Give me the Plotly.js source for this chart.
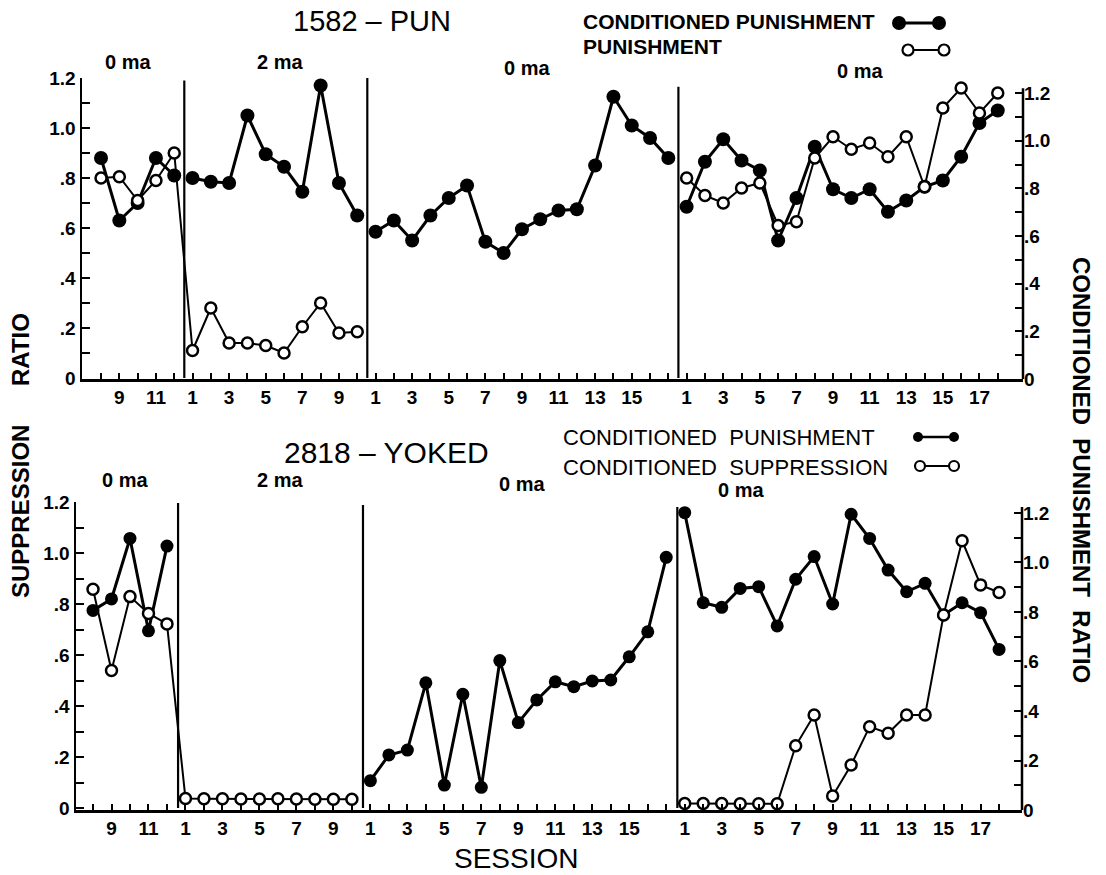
<!DOCTYPE html>
<html>
<head>
<meta charset="utf-8">
<script src="https://cdn.plot.ly/plotly-3.0.1.min.js"></script>
<style>
  html, body { margin: 0; padding: 0; background: #fff; }
  #chart { width: 1106px; height: 875px; }
</style>
</head>
<body>
<div id="chart"></div>
<script>
// Sessions run in each phase, and the current level shown above each phase
const phaseSessions = [
  [8, 9, 10, 11, 12],
  [1, 2, 3, 4, 5, 6, 7, 8, 9, 10],
  [1, 2, 3, 4, 5, 6, 7, 8, 9, 10, 11, 12, 13, 14, 15, 16, 17],
  [1, 2, 3, 4, 5, 6, 7, 8, 9, 10, 11, 12, 13, 14, 15, 16, 17, 18]
];
const phaseLabels = ['0 ma', '2 ma', '0 ma', '0 ma'];
const labelledSessions = [
  [9, 11],
  [1, 3, 5, 7, 9],
  [1, 3, 5, 7, 9, 11, 13, 15],
  [1, 3, 5, 7, 9, 11, 13, 15, 17]
];

// Y ticks (minor every .1, labelled every .2)
const yTickVals = [0, 0.1, 0.2, 0.3, 0.4, 0.5, 0.6, 0.7, 0.8, 0.9, 1.0, 1.1, 1.2];
const yTickText = ['0', '', '.2', '', '.4', '', '.6', '', '.8', '', '1.0', '', '1.2'];

// 1582 - PUN : conditioned punishment (filled) and punishment (open), per phase
const punCondPunish = [
  [0.88, 0.63, 0.70, 0.88, 0.81],
  [0.80, 0.785, 0.78, 1.05, 0.895, 0.845, 0.745, 1.17, 0.78, 0.65],
  [0.585, 0.63, 0.55, 0.65, 0.72, 0.77, 0.545, 0.50, 0.595, 0.635, 0.67, 0.675, 0.85, 1.125, 1.01, 0.96, 0.88],
  [0.685, 0.865, 0.955, 0.87, 0.83, 0.55, 0.72, 0.925, 0.755, 0.72, 0.755, 0.665, 0.71, 0.765, 0.79, 0.885, 1.02, 1.07]
];
const punPunish = [
  [0.80, 0.805, 0.71, 0.79, 0.90],
  [0.11, 0.28, 0.14, 0.14, 0.13, 0.10, 0.205, 0.30, 0.18, 0.185],
  null,
  [0.80, 0.73, 0.70, 0.76, 0.78, 0.61, 0.625, 0.88, 0.965, 0.915, 0.94, 0.885, 0.965, 0.765, 1.08, 1.16, 1.06, 1.14]
];

// 2818 - YOKED : conditioned punishment (filled) and conditioned suppression (open)
const yokCondPunish = [
  [0.775, 0.82, 1.057, 0.695, 1.027],
  null,
  [0.107, 0.208, 0.227, 0.491, 0.09, 0.446, 0.081, 0.578, 0.335, 0.424, 0.495, 0.476, 0.498, 0.502, 0.593, 0.691, 0.983],
  [1.158, 0.805, 0.787, 0.861, 0.868, 0.714, 0.897, 0.986, 0.80, 1.152, 1.057, 0.933, 0.848, 0.881, 0.757, 0.805, 0.766, 0.622]
];
const yokCondSuppress = [
  [0.858, 0.539, 0.829, 0.763, 0.722],
  [0.037, 0.036, 0.036, 0.035, 0.035, 0.036, 0.035, 0.034, 0.034, 0.034],
  null,
  [0.018, 0.018, 0.018, 0.017, 0.017, 0.017, 0.244, 0.365, 0.047, 0.169, 0.319, 0.293, 0.365, 0.365, 0.757, 1.048, 0.875, 0.845]
];

const W = 1106, H = 875;
const px = v => v / W;
const py = v => 1 - v / H;
const FONT = 'Liberation Sans, Arial, sans-serif';
const NARROW = 'Liberation Sans Narrow, Liberation Sans, Arial, sans-serif';

// running position of every session along the x axis
const offsets = [];
phaseSessions.reduce((acc, s, i) => { offsets[i] = acc; return acc + s.length; }, 0);
const tickVals = [], tickText = [];
phaseSessions.forEach((s, p) => s.forEach((sess, i) => {
  tickVals.push(offsets[p] + i);
  tickText.push(labelledSessions[p].includes(sess) ? String(sess) : '');
}));

// one line per group of phases that are joined together
function series(values, groups, xa, ya, filled, size) {
  return groups.map(g => {
    const xs = [], ys = [];
    g.forEach(p => {
      if (!values[p]) return;
      values[p].forEach((v, i) => { xs.push(offsets[p] + i); ys.push(v); });
    });
    return {
      type: 'scatter', mode: 'lines+markers', x: xs, y: ys, xaxis: xa, yaxis: ya,
      cliponaxis: false, showlegend: false, hoverinfo: 'skip',
      line: { color: '#000', width: filled ? 3 : 2 },
      marker: filled
        ? { symbol: 'circle', size: size, color: '#000' }
        : { symbol: 'circle', size: size, color: '#fff', line: { color: '#000', width: 2.5 } }
    };
  });
}

const traces = [
  ...series(punCondPunish, [[0], [1], [2], [3]], 'x', 'y', true, 14),
  ...series(punPunish, [[0, 1], [3]], 'x', 'y', false, 11),
  ...series(yokCondPunish, [[0], [2], [3]], 'x2', 'y3', true, 13),
  ...series(yokCondSuppress, [[0, 1], [3]], 'x2', 'y3', false, 11)
];

const tickFont = { family: FONT, size: 19, color: '#000', weight: 'bold' };
function xAxis(domain, range, anchor) {
  return {
    domain, range, anchor, tickmode: 'array', tickvals: tickVals, ticktext: tickText,
    ticks: 'inside', ticklen: 6, tickwidth: 2, tickcolor: '#000',
    showline: true, linewidth: 2.5, linecolor: '#000', showgrid: false, zeroline: false,
    tickfont: Object.assign({}, tickFont, { size: 19 }), fixedrange: true
  };
}
function yAxis(domain, range, anchor, extra) {
  return Object.assign({
    domain, range, anchor, tickmode: 'array', tickvals: yTickVals, ticktext: yTickText,
    ticks: 'inside', ticklen: 8, tickwidth: 2, tickcolor: '#000',
    showline: true, linewidth: 2.5, linecolor: '#000', showgrid: false, zeroline: false,
    tickfont: tickFont, fixedrange: true
  }, extra || {});
}

const topY = [py(379), py(78)];
const botY = [py(810), py(502)];

const layout = {
  width: W, height: H,
  margin: { l: 0, r: 0, t: 0, b: 0 },
  paper_bgcolor: '#fff', plot_bgcolor: 'rgba(0,0,0,0)',
  showlegend: false,
  xaxis: xAxis([px(82), px(1023)], [-1.04, 50.38], 'y'),
  yaxis: yAxis(topY, [-0.004, 1.2], 'x'),
  yaxis2: yAxis(topY, [0, 1.263], 'x', { overlaying: 'y', side: 'right', showline: false }),
  xaxis2: xAxis([px(76), px(1022)], [-0.92, 50.24], 'y3'),
  yaxis3: yAxis(botY, [-0.0078, 1.2], 'x2'),
  yaxis4: yAxis(botY, [0, 1.2444], 'x2', { overlaying: 'y3', side: 'right', showline: false }),
  shapes: [],
  annotations: []
};

// phase separators and right-hand axis lines
const sepTopEnds = [1.19, 1.2, 1.165];
const sepBotEnds = [1.196, 1.188, 1.18];
[1, 2, 3].forEach((p, k) => {
  layout.shapes.push({ type: 'line', xref: 'x', yref: 'y', x0: offsets[p] - 0.45, x1: offsets[p] - 0.45,
    y0: 0, y1: sepTopEnds[k], line: { color: '#000', width: 2.2 } });
  layout.shapes.push({ type: 'line', xref: 'x2', yref: 'y3', x0: offsets[p] - 0.4, x1: offsets[p] - 0.4,
    y0: 0, y1: sepBotEnds[k], line: { color: '#000', width: 2.2 } });
});
layout.shapes.push({ type: 'line', xref: 'paper', yref: 'y2', x0: px(1023), x1: px(1023), y0: 0, y1: 1.22,
  line: { color: '#000', width: 2.5 } });
layout.shapes.push({ type: 'line', xref: 'paper', yref: 'y4', x0: px(1022), x1: px(1022), y0: 0, y1: 1.224,
  line: { color: '#000', width: 2.5 } });

// key symbols next to the key text
function keySample(x0, x1, y, r, filled, lw) {
  layout.shapes.push({ type: 'line', xref: 'paper', yref: 'paper', x0: px(x0), x1: px(x1), y0: py(y), y1: py(y),
    line: { color: '#000', width: lw } });
  [x0, x1].forEach(cx => layout.shapes.push({
    type: 'circle', xref: 'paper', yref: 'paper',
    x0: px(cx - r), x1: px(cx + r), y0: py(y + r), y1: py(y - r),
    fillcolor: filled ? '#000' : '#fff', line: { color: '#000', width: filled ? 0 : 2.2 }
  }));
}
keySample(899, 939, 23, 7, true, 3);
keySample(908, 944, 50, 5.5, false, 2.2);
keySample(918, 954, 437, 5, true, 2.5);
keySample(920, 954, 466, 5, false, 2);

function note(text, x, y, size, opts) {
  opts = opts || {};
  layout.annotations.push({
    text, x: px(x), y: py(y), xref: 'paper', yref: 'paper', showarrow: false,
    xanchor: opts.xanchor || 'center', yanchor: 'middle', textangle: opts.textangle || 0,
    font: Object.assign({ family: FONT, size, color: '#000' }, opts.font || {})
  });
}

// titles
note('1582 – PUN', 372, 21, 29);
note('2818 – YOKED', 386, 452, 30);

// keys
note('CONDITIONED PUNISHMENT', 581, 21, 21, { xanchor: 'left', font: { weight: 'bold', family: NARROW } });
note('PUNISHMENT', 581, 46, 21, { xanchor: 'left', font: { weight: 'bold', family: NARROW } });
note('CONDITIONED  PUNISHMENT', 561, 437, 22, { xanchor: 'left' });
note('CONDITIONED  SUPPRESSION', 561, 467, 22, { xanchor: 'left' });

// phase labels
const topPhaseX = [128, 280, 527, 860], topPhaseY = [62, 62, 68, 71];
const botPhaseX = [125, 280, 522, 741], botPhaseY = [480, 480, 484, 490];
phaseLabels.forEach((t, i) => {
  note(t, topPhaseX[i], topPhaseY[i], 20, { font: { weight: 'bold' } });
  note(t, botPhaseX[i], botPhaseY[i], 20, { font: { weight: 'bold' } });
});

// axis titles
note('RATIO', 20, 350, 24, { textangle: -90, font: { weight: 'bold' } });
note('SUPPRESSION', 20, 512, 24, { textangle: -90, font: { weight: 'bold' } });
note('CONDITIONED  PUNISHMENT  RATIO', 1082, 470, 24, { textangle: 90, font: { weight: 'bold' } });
note('SESSION', 516, 858, 28);

Plotly.newPlot('chart', traces, layout, { staticPlot: true, displayModeBar: false });
</script>
</body>
</html>
